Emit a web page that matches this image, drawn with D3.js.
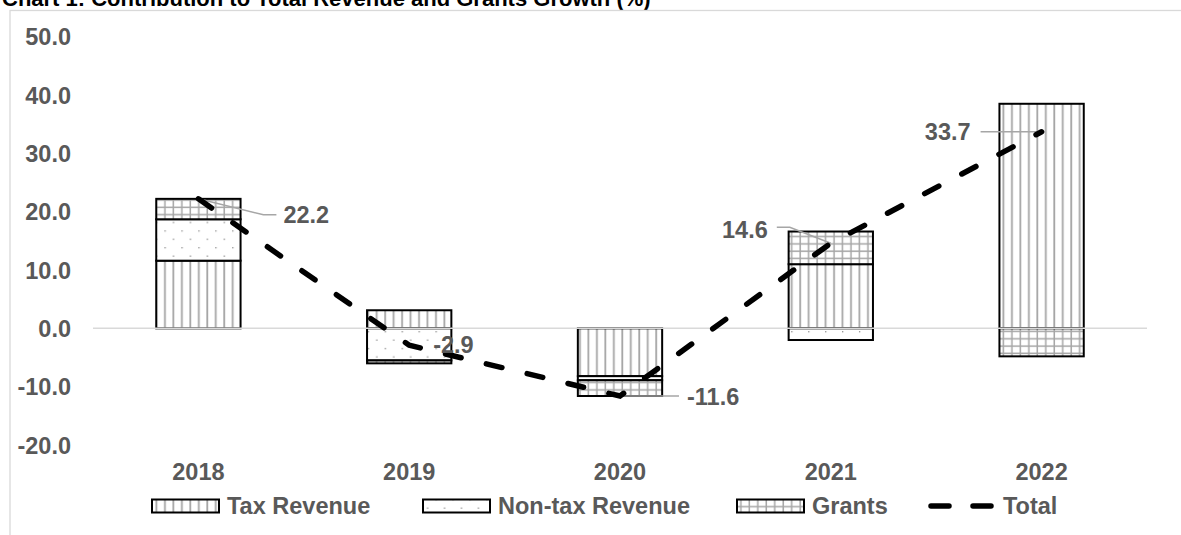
<!DOCTYPE html>
<html>
<head>
<meta charset="utf-8">
<script src="https://cdn.jsdelivr.net/npm/d3@7"></script>
<style>
  body { margin: 0; background: #fff; }
  svg { display: block; font-family: "Liberation Sans", Arial, sans-serif; font-weight: bold; }
</style>
</head>
<body>
<div id="chart"></div>
<script>
// Values
const years = ['2018', '2019', '2020', '2021', '2022'];
const taxRevenue = [11.6, 3.1, -8.2, 11.0, 38.5];
const nonTaxRevenue = [7.1, -5.5, -0.7, -2.0, 0.0];
const grants = [3.5, -0.5, -2.7, 5.6, -4.8];
const total = [22.2, -2.9, -11.6, 14.6, 33.7];
const yTicks = [-20, -10, 0, 10, 20, 30, 40, 50];
const seriesNames = ['Tax Revenue', 'Non-tax Revenue', 'Grants', 'Total'];

const width = 1181;
const height = 535;
const labelColor = '#595959';
const fontSize = 23.5;

// Excel style numbers: one decimal, plain hyphen for negatives
function fmt(v) {
  return d3.format('.1f')(v).replace('\u2212', '-');
}

let svg = d3.select('#chart')
  .append('svg')
  .attr('width', width)
  .attr('height', height);

// Hatch patterns used by the bars and the legend
let defs = svg.append('defs');

let taxPattern = defs.append('pattern')
  .attr('id', 'taxFill')
  .attr('patternUnits', 'userSpaceOnUse')
  .attr('width', 8.47)
  .attr('height', 8);
taxPattern.append('rect').attr('width', 8.47).attr('height', 8).attr('fill', '#fff');
taxPattern.append('line')
  .attr('x1', 4).attr('x2', 4).attr('y1', 0).attr('y2', 8)
  .attr('stroke', '#a6a6a6').attr('stroke-width', 1.8);

let dotPattern = defs.append('pattern')
  .attr('id', 'nonTaxFill')
  .attr('patternUnits', 'userSpaceOnUse')
  .attr('width', 16.94)
  .attr('height', 16.8);
dotPattern.append('rect').attr('width', 16.94).attr('height', 16.8).attr('fill', '#fff');
dotPattern.append('rect').attr('x', 3.5).attr('y', 3.5).attr('width', 1.3).attr('height', 1.3).attr('fill', '#8c8c8c');
dotPattern.append('rect').attr('x', 11.97).attr('y', 11.9).attr('width', 1.3).attr('height', 1.3).attr('fill', '#8c8c8c');

let gridPattern = defs.append('pattern')
  .attr('id', 'grantsFill')
  .attr('patternUnits', 'userSpaceOnUse')
  .attr('width', 8.47)
  .attr('height', 7.3);
gridPattern.append('rect').attr('width', 8.47).attr('height', 7.3).attr('fill', '#fff');
gridPattern.append('line')
  .attr('x1', 4).attr('x2', 4).attr('y1', 0).attr('y2', 7.3)
  .attr('stroke', '#a6a6a6').attr('stroke-width', 1.5);
gridPattern.append('line')
  .attr('x1', 0).attr('x2', 8.47).attr('y1', 3).attr('y2', 3)
  .attr('stroke', '#a6a6a6').attr('stroke-width', 1.5);

const fills = ['url(#taxFill)', 'url(#nonTaxFill)', 'url(#grantsFill)'];

// Title (cut off at the top, as in the source)
svg.append('text')
  .attr('x', 2)
  .attr('y', 6)
  .attr('fill', '#000')
  .style('font-size', '22px')
  .text('Chart 1: Contribution to Total Revenue and Grants Growth (%)');

// Chart area border
svg.append('rect')
  .attr('x', 10)
  .attr('y', 10.5)
  .attr('width', 1300)
  .attr('height', 700)
  .attr('fill', 'none')
  .attr('stroke', '#d9d9d9')
  .attr('stroke-width', 1.3);

let x = d3.scaleBand()
  .domain(years)
  .range([93, 1147]);

let y = d3.scaleLinear()
  .domain([-20, 50])
  .range([445, 36.7]);

const barWidth = x.bandwidth() * 0.4;
function cx(d) { return x(d) + x.bandwidth() / 2; }

// Y axis labels
let yAxis = svg.append('g')
  .attr('transform', 'translate(71,0)')
  .call(d3.axisLeft(y).tickValues(yTicks).tickSize(0).tickPadding(0).tickFormat(fmt));
yAxis.select('.domain').remove();
yAxis.selectAll('text')
  .attr('fill', labelColor)
  .attr('dy', '0.35em')
  .style('font-size', fontSize + 'px')
  .style('font-family', null);

// Stacked bars (positives and negatives stacked separately)
let table = years.map(function(yr, i) {
  return { year: yr, tax: taxRevenue[i], nonTax: nonTaxRevenue[i], grants: grants[i] };
});
let stacked = d3.stack()
  .keys(['tax', 'nonTax', 'grants'])
  .offset(d3.stackOffsetDiverging)(table);

stacked.forEach(function(layer, k) {
  svg.append('g')
    .selectAll('rect')
    .data(layer.filter(function(d) { return d[1] !== d[0]; }))
    .enter()
    .append('rect')
    .attr('x', function(d) { return cx(d.data.year) - barWidth / 2; })
    .attr('y', function(d) { return y(Math.max(d[0], d[1])); })
    .attr('width', barWidth)
    .attr('height', function(d) { return Math.abs(y(d[0]) - y(d[1])); })
    .attr('fill', fills[k])
    .attr('stroke', '#000')
    .attr('stroke-width', 2);
});

// Zero line
svg.append('line')
  .attr('x1', 93)
  .attr('x2', 1147)
  .attr('y1', y(0))
  .attr('y2', y(0))
  .attr('stroke', '#d9d9d9')
  .attr('stroke-width', 1.5);

// X axis labels
let xAxis = svg.append('g')
  .attr('transform', 'translate(0,463)')
  .call(d3.axisBottom(x).tickSize(0).tickPadding(0));
xAxis.select('.domain').remove();
xAxis.selectAll('text')
  .attr('fill', labelColor)
  .attr('dy', '0.71em')
  .style('font-size', fontSize + 'px')
  .style('font-family', null);

// Data label placement relative to each Total point: [dx, dy, anchor, leader points]
const labelLayout = [
  { dx: 85, dy: 16, anchor: 'start', leader: [[0, 0], [65, 16], [78, 16]] },
  { dx: 24, dy: 0, anchor: 'start', leader: [] },
  { dx: 67, dy: 1, anchor: 'start', leader: [[0, 0], [59, 0]] },
  { dx: -63, dy: -13, anchor: 'end', leader: [[0, 0], [-41, -16], [-54, -16]] },
  { dx: -71, dy: 0, anchor: 'end', leader: [[0, 0], [-61, 0]] }
];

let leaders = svg.append('g');
total.forEach(function(v, i) {
  let px = cx(years[i]);
  let py = y(v);
  let pts = labelLayout[i].leader.map(function(p) { return [px + p[0], py + p[1]]; });
  if (pts.length) {
    leaders.append('path')
      .attr('d', d3.line()(pts))
      .attr('fill', 'none')
      .attr('stroke', '#a6a6a6')
      .attr('stroke-width', 1.5);
  }
});

// Total line
let totalLine = d3.line()
  .x(function(d, i) { return cx(years[i]); })
  .y(function(d) { return y(d); });

svg.append('path')
  .datum(total)
  .attr('d', totalLine)
  .attr('fill', 'none')
  .attr('stroke', '#000')
  .attr('stroke-width', 5.5)
  .attr('stroke-linecap', 'round')
  .attr('stroke-dasharray', '16,26');

// Data labels
svg.append('g')
  .selectAll('text')
  .data(total)
  .enter()
  .append('text')
  .attr('x', function(d, i) { return cx(years[i]) + labelLayout[i].dx; })
  .attr('y', function(d, i) { return y(d) + labelLayout[i].dy; })
  .attr('dy', '0.35em')
  .attr('text-anchor', function(d, i) { return labelLayout[i].anchor; })
  .attr('fill', labelColor)
  .style('font-size', fontSize + 'px')
  .text(fmt);

// Legend
const legendX = [152, 423, 737, 928];
let legend = svg.append('g');
seriesNames.forEach(function(name, i) {
  let lx = legendX[i];
  if (i < 3) {
    legend.append('rect')
      .attr('x', lx)
      .attr('y', 499.5)
      .attr('width', 67)
      .attr('height', 13)
      .attr('fill', fills[i])
      .attr('stroke', '#000')
      .attr('stroke-width', 2);
  } else {
    legend.append('line')
      .attr('x1', lx + 3)
      .attr('x2', lx + 65)
      .attr('y1', 506)
      .attr('y2', 506)
      .attr('stroke', '#000')
      .attr('stroke-width', 5.5)
      .attr('stroke-linecap', 'round')
      .attr('stroke-dasharray', '18,24');
  }
  legend.append('text')
    .attr('x', lx + 75)
    .attr('y', 506)
    .attr('dy', '0.35em')
    .attr('fill', labelColor)
    .style('font-size', fontSize + 'px')
    .text(name);
});
</script>
</body>
</html>
